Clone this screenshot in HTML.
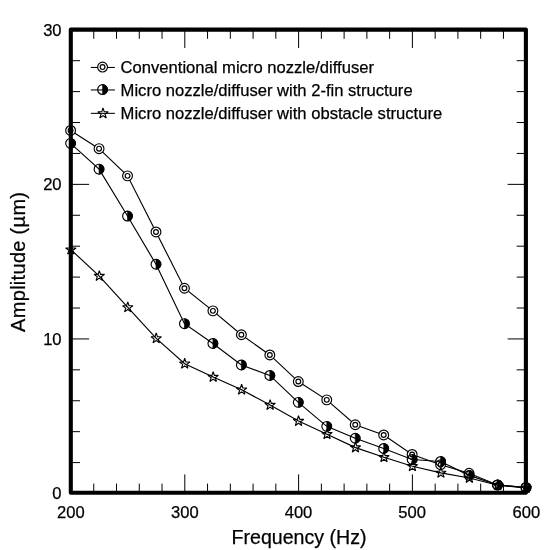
<!DOCTYPE html>
<html><head><meta charset="utf-8"><title>Amplitude vs Frequency</title>
<style>html,body{margin:0;padding:0;background:#fff}svg{display:block}</style></head>
<body><svg width="546" height="550" viewBox="0 0 546 550">
<rect width="546" height="550" fill="#fff"/>
<polyline points="70.60,130.45 99.06,148.65 127.53,175.85 155.99,231.95 184.45,288.25 212.91,310.85 241.38,334.75 269.84,354.95 298.30,381.55 326.76,399.85 355.23,424.75 383.69,434.95 412.15,454.45 440.61,464.75 469.08,473.25 497.54,484.95 526.00,487.45" fill="none" stroke="#000" stroke-width="1.15"/>
<circle cx="70.60" cy="130.45" r="4.9" fill="#fff" stroke="#000" stroke-width="1.15"/><circle cx="70.60" cy="130.45" r="2.4" fill="#fff" stroke="#000" stroke-width="1.15"/>
<circle cx="99.06" cy="148.65" r="4.9" fill="#fff" stroke="#000" stroke-width="1.15"/><circle cx="99.06" cy="148.65" r="2.4" fill="#fff" stroke="#000" stroke-width="1.15"/>
<circle cx="127.53" cy="175.85" r="4.9" fill="#fff" stroke="#000" stroke-width="1.15"/><circle cx="127.53" cy="175.85" r="2.4" fill="#fff" stroke="#000" stroke-width="1.15"/>
<circle cx="155.99" cy="231.95" r="4.9" fill="#fff" stroke="#000" stroke-width="1.15"/><circle cx="155.99" cy="231.95" r="2.4" fill="#fff" stroke="#000" stroke-width="1.15"/>
<circle cx="184.45" cy="288.25" r="4.9" fill="#fff" stroke="#000" stroke-width="1.15"/><circle cx="184.45" cy="288.25" r="2.4" fill="#fff" stroke="#000" stroke-width="1.15"/>
<circle cx="212.91" cy="310.85" r="4.9" fill="#fff" stroke="#000" stroke-width="1.15"/><circle cx="212.91" cy="310.85" r="2.4" fill="#fff" stroke="#000" stroke-width="1.15"/>
<circle cx="241.38" cy="334.75" r="4.9" fill="#fff" stroke="#000" stroke-width="1.15"/><circle cx="241.38" cy="334.75" r="2.4" fill="#fff" stroke="#000" stroke-width="1.15"/>
<circle cx="269.84" cy="354.95" r="4.9" fill="#fff" stroke="#000" stroke-width="1.15"/><circle cx="269.84" cy="354.95" r="2.4" fill="#fff" stroke="#000" stroke-width="1.15"/>
<circle cx="298.30" cy="381.55" r="4.9" fill="#fff" stroke="#000" stroke-width="1.15"/><circle cx="298.30" cy="381.55" r="2.4" fill="#fff" stroke="#000" stroke-width="1.15"/>
<circle cx="326.76" cy="399.85" r="4.9" fill="#fff" stroke="#000" stroke-width="1.15"/><circle cx="326.76" cy="399.85" r="2.4" fill="#fff" stroke="#000" stroke-width="1.15"/>
<circle cx="355.23" cy="424.75" r="4.9" fill="#fff" stroke="#000" stroke-width="1.15"/><circle cx="355.23" cy="424.75" r="2.4" fill="#fff" stroke="#000" stroke-width="1.15"/>
<circle cx="383.69" cy="434.95" r="4.9" fill="#fff" stroke="#000" stroke-width="1.15"/><circle cx="383.69" cy="434.95" r="2.4" fill="#fff" stroke="#000" stroke-width="1.15"/>
<circle cx="412.15" cy="454.45" r="4.9" fill="#fff" stroke="#000" stroke-width="1.15"/><circle cx="412.15" cy="454.45" r="2.4" fill="#fff" stroke="#000" stroke-width="1.15"/>
<circle cx="440.61" cy="464.75" r="4.9" fill="#fff" stroke="#000" stroke-width="1.15"/><circle cx="440.61" cy="464.75" r="2.4" fill="#fff" stroke="#000" stroke-width="1.15"/>
<circle cx="469.08" cy="473.25" r="4.9" fill="#fff" stroke="#000" stroke-width="1.15"/><circle cx="469.08" cy="473.25" r="2.4" fill="#fff" stroke="#000" stroke-width="1.15"/>
<circle cx="497.54" cy="484.95" r="4.9" fill="#fff" stroke="#000" stroke-width="1.15"/><circle cx="497.54" cy="484.95" r="2.4" fill="#fff" stroke="#000" stroke-width="1.15"/>
<circle cx="526.00" cy="487.45" r="4.9" fill="#fff" stroke="#000" stroke-width="1.15"/><circle cx="526.00" cy="487.45" r="2.4" fill="#fff" stroke="#000" stroke-width="1.15"/>
<polyline points="70.85,249.65 99.31,276.05 127.78,307.45 156.24,338.45 184.70,363.75 213.16,377.05 241.62,389.75 270.09,405.05 298.55,421.10 327.01,434.30 355.48,447.60 383.94,457.30 412.40,466.30 440.86,472.90 469.33,478.00 497.79,485.30 526.25,488.00" fill="none" stroke="#000" stroke-width="1.15"/>
<polygon points="70.85,244.15 72.08,247.95 76.08,247.95 72.85,250.30 74.08,254.10 70.85,251.75 67.62,254.10 68.85,250.30 65.62,247.95 69.62,247.95" fill="none" stroke="#000" stroke-width="1.12" stroke-linejoin="miter" stroke-miterlimit="2.2"/>
<polygon points="99.31,270.55 100.55,274.35 104.54,274.35 101.31,276.70 102.55,280.50 99.31,278.15 96.08,280.50 97.31,276.70 94.08,274.35 98.08,274.35" fill="none" stroke="#000" stroke-width="1.12" stroke-linejoin="miter" stroke-miterlimit="2.2"/>
<polygon points="127.78,301.95 129.01,305.75 133.01,305.75 129.77,308.10 131.01,311.90 127.78,309.55 124.54,311.90 125.78,308.10 122.54,305.75 126.54,305.75" fill="none" stroke="#000" stroke-width="1.12" stroke-linejoin="miter" stroke-miterlimit="2.2"/>
<polygon points="156.24,332.95 157.47,336.75 161.47,336.75 158.24,339.10 159.47,342.90 156.24,340.55 153.00,342.90 154.24,339.10 151.01,336.75 155.00,336.75" fill="none" stroke="#000" stroke-width="1.12" stroke-linejoin="miter" stroke-miterlimit="2.2"/>
<polygon points="184.70,358.25 185.93,362.05 189.93,362.05 186.70,364.40 187.93,368.20 184.70,365.85 181.47,368.20 182.70,364.40 179.47,362.05 183.47,362.05" fill="none" stroke="#000" stroke-width="1.12" stroke-linejoin="miter" stroke-miterlimit="2.2"/>
<polygon points="213.16,371.55 214.40,375.35 218.39,375.35 215.16,377.70 216.40,381.50 213.16,379.15 209.93,381.50 211.16,377.70 207.93,375.35 211.93,375.35" fill="none" stroke="#000" stroke-width="1.12" stroke-linejoin="miter" stroke-miterlimit="2.2"/>
<polygon points="241.62,384.25 242.86,388.05 246.86,388.05 243.62,390.40 244.86,394.20 241.62,391.85 238.39,394.20 239.63,390.40 236.39,388.05 240.39,388.05" fill="none" stroke="#000" stroke-width="1.12" stroke-linejoin="miter" stroke-miterlimit="2.2"/>
<polygon points="270.09,399.55 271.32,403.35 275.32,403.35 272.09,405.70 273.32,409.50 270.09,407.15 266.85,409.50 268.09,405.70 264.86,403.35 268.85,403.35" fill="none" stroke="#000" stroke-width="1.12" stroke-linejoin="miter" stroke-miterlimit="2.2"/>
<polygon points="298.55,415.60 299.78,419.40 303.78,419.40 300.55,421.75 301.78,425.55 298.55,423.20 295.32,425.55 296.55,421.75 293.32,419.40 297.32,419.40" fill="none" stroke="#000" stroke-width="1.12" stroke-linejoin="miter" stroke-miterlimit="2.2"/>
<polygon points="327.01,428.80 328.25,432.60 332.24,432.60 329.01,434.95 330.25,438.75 327.01,436.40 323.78,438.75 325.01,434.95 321.78,432.60 325.78,432.60" fill="none" stroke="#000" stroke-width="1.12" stroke-linejoin="miter" stroke-miterlimit="2.2"/>
<polygon points="355.48,442.10 356.71,445.90 360.71,445.90 357.47,448.25 358.71,452.05 355.48,449.70 352.24,452.05 353.48,448.25 350.24,445.90 354.24,445.90" fill="none" stroke="#000" stroke-width="1.12" stroke-linejoin="miter" stroke-miterlimit="2.2"/>
<polygon points="383.94,451.80 385.17,455.60 389.17,455.60 385.94,457.95 387.17,461.75 383.94,459.40 380.70,461.75 381.94,457.95 378.71,455.60 382.70,455.60" fill="none" stroke="#000" stroke-width="1.12" stroke-linejoin="miter" stroke-miterlimit="2.2"/>
<polygon points="412.40,460.80 413.63,464.60 417.63,464.60 414.40,466.95 415.63,470.75 412.40,468.40 409.17,470.75 410.40,466.95 407.17,464.60 411.17,464.60" fill="none" stroke="#000" stroke-width="1.12" stroke-linejoin="miter" stroke-miterlimit="2.2"/>
<polygon points="440.86,467.40 442.10,471.20 446.09,471.20 442.86,473.55 444.10,477.35 440.86,475.00 437.63,477.35 438.86,473.55 435.63,471.20 439.63,471.20" fill="none" stroke="#000" stroke-width="1.12" stroke-linejoin="miter" stroke-miterlimit="2.2"/>
<polygon points="469.33,472.50 470.56,476.30 474.56,476.30 471.32,478.65 472.56,482.45 469.33,480.10 466.09,482.45 467.33,478.65 464.09,476.30 468.09,476.30" fill="none" stroke="#000" stroke-width="1.12" stroke-linejoin="miter" stroke-miterlimit="2.2"/>
<polygon points="497.79,479.80 499.02,483.60 503.02,483.60 499.79,485.95 501.02,489.75 497.79,487.40 494.55,489.75 495.79,485.95 492.56,483.60 496.55,483.60" fill="none" stroke="#000" stroke-width="1.12" stroke-linejoin="miter" stroke-miterlimit="2.2"/>
<polygon points="526.25,482.50 527.48,486.30 531.48,486.30 528.25,488.65 529.48,492.45 526.25,490.10 523.02,492.45 524.25,488.65 521.02,486.30 525.02,486.30" fill="none" stroke="#000" stroke-width="1.12" stroke-linejoin="miter" stroke-miterlimit="2.2"/>
<polyline points="70.60,143.35 99.06,169.15 127.53,216.05 155.99,264.25 184.45,323.65 212.91,343.45 241.38,364.95 269.84,375.45 298.30,402.35 326.76,426.35 355.23,438.25 383.69,448.45 412.15,459.45 440.61,461.45 469.08,475.35 497.54,484.95 526.00,487.65" fill="none" stroke="#000" stroke-width="1.15"/>
<circle cx="70.60" cy="143.35" r="4.90" fill="none" stroke="#000" stroke-width="1.15"/><path d="M70.60 138.45 A4.90 4.90 0 0 1 70.60 148.25 Z" fill="#000" stroke="#000" stroke-width="0.6"/>
<circle cx="99.06" cy="169.15" r="4.90" fill="none" stroke="#000" stroke-width="1.15"/><path d="M99.06 164.25 A4.90 4.90 0 0 1 99.06 174.05 Z" fill="#000" stroke="#000" stroke-width="0.6"/>
<circle cx="127.53" cy="216.05" r="4.90" fill="none" stroke="#000" stroke-width="1.15"/><path d="M127.53 211.15 A4.90 4.90 0 0 1 127.53 220.95 Z" fill="#000" stroke="#000" stroke-width="0.6"/>
<circle cx="155.99" cy="264.25" r="4.90" fill="none" stroke="#000" stroke-width="1.15"/><path d="M155.99 259.35 A4.90 4.90 0 0 1 155.99 269.15 Z" fill="#000" stroke="#000" stroke-width="0.6"/>
<circle cx="184.45" cy="323.65" r="4.90" fill="none" stroke="#000" stroke-width="1.15"/><path d="M184.45 318.75 A4.90 4.90 0 0 1 184.45 328.55 Z" fill="#000" stroke="#000" stroke-width="0.6"/>
<circle cx="212.91" cy="343.45" r="4.90" fill="none" stroke="#000" stroke-width="1.15"/><path d="M212.91 338.55 A4.90 4.90 0 0 1 212.91 348.35 Z" fill="#000" stroke="#000" stroke-width="0.6"/>
<circle cx="241.38" cy="364.95" r="4.90" fill="none" stroke="#000" stroke-width="1.15"/><path d="M241.38 360.05 A4.90 4.90 0 0 1 241.38 369.85 Z" fill="#000" stroke="#000" stroke-width="0.6"/>
<circle cx="269.84" cy="375.45" r="4.90" fill="none" stroke="#000" stroke-width="1.15"/><path d="M269.84 370.55 A4.90 4.90 0 0 1 269.84 380.35 Z" fill="#000" stroke="#000" stroke-width="0.6"/>
<circle cx="298.30" cy="402.35" r="4.90" fill="none" stroke="#000" stroke-width="1.15"/><path d="M298.30 397.45 A4.90 4.90 0 0 1 298.30 407.25 Z" fill="#000" stroke="#000" stroke-width="0.6"/>
<circle cx="326.76" cy="426.35" r="4.90" fill="none" stroke="#000" stroke-width="1.15"/><path d="M326.76 421.45 A4.90 4.90 0 0 1 326.76 431.25 Z" fill="#000" stroke="#000" stroke-width="0.6"/>
<circle cx="355.23" cy="438.25" r="4.90" fill="none" stroke="#000" stroke-width="1.15"/><path d="M355.23 433.35 A4.90 4.90 0 0 1 355.23 443.15 Z" fill="#000" stroke="#000" stroke-width="0.6"/>
<circle cx="383.69" cy="448.45" r="4.90" fill="none" stroke="#000" stroke-width="1.15"/><path d="M383.69 443.55 A4.90 4.90 0 0 1 383.69 453.35 Z" fill="#000" stroke="#000" stroke-width="0.6"/>
<circle cx="412.15" cy="459.45" r="4.90" fill="none" stroke="#000" stroke-width="1.15"/><path d="M412.15 454.55 A4.90 4.90 0 0 1 412.15 464.35 Z" fill="#000" stroke="#000" stroke-width="0.6"/>
<circle cx="440.61" cy="461.45" r="4.90" fill="none" stroke="#000" stroke-width="1.15"/><path d="M440.61 456.55 A4.90 4.90 0 0 1 440.61 466.35 Z" fill="#000" stroke="#000" stroke-width="0.6"/>
<circle cx="469.08" cy="475.35" r="4.90" fill="none" stroke="#000" stroke-width="1.15"/><path d="M469.08 470.45 A4.90 4.90 0 0 1 469.08 480.25 Z" fill="#000" stroke="#000" stroke-width="0.6"/>
<circle cx="497.54" cy="484.95" r="4.90" fill="none" stroke="#000" stroke-width="1.15"/><path d="M497.54 480.05 A4.90 4.90 0 0 1 497.54 489.85 Z" fill="#000" stroke="#000" stroke-width="0.6"/>
<circle cx="526.00" cy="487.65" r="4.90" fill="none" stroke="#000" stroke-width="1.15"/><path d="M526.00 482.75 A4.90 4.90 0 0 1 526.00 492.55 Z" fill="#000" stroke="#000" stroke-width="0.6"/>
<path d="M93.76 492.80 v-9.20 M93.76 29.60 v9.20 M116.52 492.80 v-9.20 M116.52 29.60 v9.20 M139.28 492.80 v-9.20 M139.28 29.60 v9.20 M162.04 492.80 v-9.20 M162.04 29.60 v9.20 M184.80 492.80 v-18.40 M184.80 29.60 v18.40 M207.56 492.80 v-9.20 M207.56 29.60 v9.20 M230.32 492.80 v-9.20 M230.32 29.60 v9.20 M253.08 492.80 v-9.20 M253.08 29.60 v9.20 M275.84 492.80 v-9.20 M275.84 29.60 v9.20 M298.60 492.80 v-18.40 M298.60 29.60 v18.40 M321.36 492.80 v-9.20 M321.36 29.60 v9.20 M344.12 492.80 v-9.20 M344.12 29.60 v9.20 M366.88 492.80 v-9.20 M366.88 29.60 v9.20 M389.64 492.80 v-9.20 M389.64 29.60 v9.20 M412.40 492.80 v-18.40 M412.40 29.60 v18.40 M435.16 492.80 v-9.20 M435.16 29.60 v9.20 M457.92 492.80 v-9.20 M457.92 29.60 v9.20 M480.68 492.80 v-9.20 M480.68 29.60 v9.20 M503.44 492.80 v-9.20 M503.44 29.60 v9.20 M70.80 462.59 h9.20 M525.90 462.59 h-9.20 M70.80 431.67 h9.20 M525.90 431.67 h-9.20 M70.80 400.76 h9.20 M525.90 400.76 h-9.20 M70.80 369.84 h9.20 M525.90 369.84 h-9.20 M70.80 338.93 h18.30 M525.90 338.93 h-18.30 M70.80 308.02 h9.20 M525.90 308.02 h-9.20 M70.80 277.10 h9.20 M525.90 277.10 h-9.20 M70.80 246.19 h9.20 M525.90 246.19 h-9.20 M70.80 215.27 h9.20 M525.90 215.27 h-9.20 M70.80 184.36 h18.30 M525.90 184.36 h-18.30 M70.80 153.45 h9.20 M525.90 153.45 h-9.20 M70.80 122.53 h9.20 M525.90 122.53 h-9.20 M70.80 91.62 h9.20 M525.90 91.62 h-9.20 M70.80 60.70 h9.20 M525.90 60.70 h-9.20" fill="none" stroke="#000" stroke-width="1.0"/>
<rect x="70.80" y="29.60" width="455.10" height="463.20" fill="none" stroke="#000" stroke-width="4.1" stroke-linejoin="round"/>
<path d="M90.8 67.45 H114.9" stroke="#000" stroke-width="1.05"/>
<path d="M90.8 89.95 H114.9" stroke="#000" stroke-width="1.05"/>
<path d="M90.8 113.35 H114.9" stroke="#000" stroke-width="1.05"/>
<circle cx="102.55" cy="67.05" r="4.9" fill="#fff" stroke="#000" stroke-width="1.15"/><circle cx="102.55" cy="67.05" r="2.4" fill="#fff" stroke="#000" stroke-width="1.15"/>
<circle cx="102.55" cy="89.55" r="4.90" fill="none" stroke="#000" stroke-width="1.15"/><path d="M102.55 84.65 A4.90 4.90 0 0 1 102.55 94.45 Z" fill="#000" stroke="#000" stroke-width="0.6"/>
<polygon points="103.00,108.00 104.23,111.80 108.23,111.80 105.00,114.15 106.23,117.95 103.00,115.60 99.77,117.95 101.00,114.15 97.77,111.80 101.77,111.80" fill="none" stroke="#000" stroke-width="1.12" stroke-linejoin="miter" stroke-miterlimit="2.2"/>
<text x="120.6" y="73.0" font-size="16.6" font-family="Liberation Sans, Arial, Helvetica, sans-serif" fill="#000" stroke="#000" stroke-width="0.25">Conventional micro nozzle/diffuser</text>
<text x="120.6" y="95.7" font-size="16.6" font-family="Liberation Sans, Arial, Helvetica, sans-serif" fill="#000" stroke="#000" stroke-width="0.25">Micro nozzle/diffuser with 2-fin structure</text>
<text x="120.6" y="118.8" font-size="16.6" font-family="Liberation Sans, Arial, Helvetica, sans-serif" fill="#000" stroke="#000" stroke-width="0.25">Micro nozzle/diffuser with obstacle structure</text>
<text x="70.9" y="517.9" font-size="16.6" text-anchor="middle" font-family="Liberation Sans, Arial, Helvetica, sans-serif" fill="#000" stroke="#000" stroke-width="0.25">200</text>
<text x="184.8" y="517.9" font-size="16.6" text-anchor="middle" font-family="Liberation Sans, Arial, Helvetica, sans-serif" fill="#000" stroke="#000" stroke-width="0.25">300</text>
<text x="298.5" y="517.9" font-size="16.6" text-anchor="middle" font-family="Liberation Sans, Arial, Helvetica, sans-serif" fill="#000" stroke="#000" stroke-width="0.25">400</text>
<text x="412.1" y="517.9" font-size="16.6" text-anchor="middle" font-family="Liberation Sans, Arial, Helvetica, sans-serif" fill="#000" stroke="#000" stroke-width="0.25">500</text>
<text x="526.3" y="517.9" font-size="16.6" text-anchor="middle" font-family="Liberation Sans, Arial, Helvetica, sans-serif" fill="#000" stroke="#000" stroke-width="0.25">600</text>
<text x="61.6" y="499.3" font-size="16.6" text-anchor="end" font-family="Liberation Sans, Arial, Helvetica, sans-serif" fill="#000" stroke="#000" stroke-width="0.25">0</text>
<text x="61.6" y="345.0" font-size="16.6" text-anchor="end" font-family="Liberation Sans, Arial, Helvetica, sans-serif" fill="#000" stroke="#000" stroke-width="0.25">10</text>
<text x="61.6" y="189.8" font-size="16.6" text-anchor="end" font-family="Liberation Sans, Arial, Helvetica, sans-serif" fill="#000" stroke="#000" stroke-width="0.25">20</text>
<text x="61.6" y="35.7" font-size="16.6" text-anchor="end" font-family="Liberation Sans, Arial, Helvetica, sans-serif" fill="#000" stroke="#000" stroke-width="0.25">30</text>
<text x="299" y="544.3" font-size="19.6" text-anchor="middle" font-family="Liberation Sans, Arial, Helvetica, sans-serif" fill="#000" stroke="#000" stroke-width="0.25">Frequency (Hz)</text>
<text transform="translate(25.2 261.8) rotate(-90)" font-size="20" letter-spacing="0.3" text-anchor="middle" font-family="Liberation Sans, Arial, Helvetica, sans-serif" fill="#000" stroke="#000" stroke-width="0.25">Amplitude (µm)</text>
</svg></body></html>
